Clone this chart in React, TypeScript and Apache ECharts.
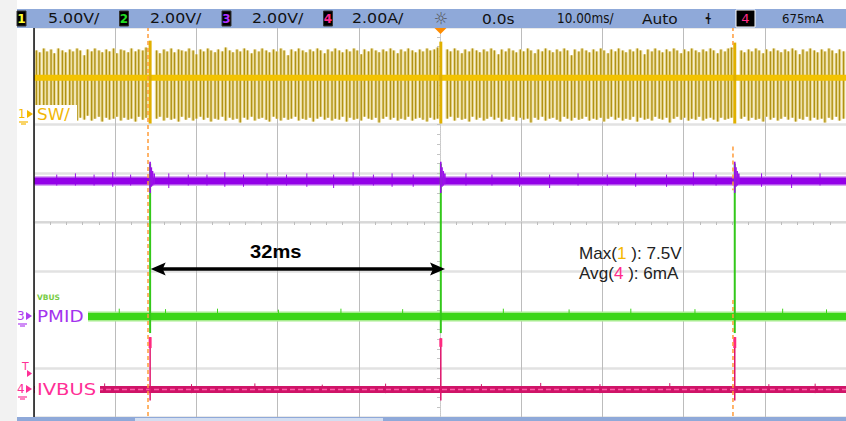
import React, { useEffect, useRef } from "react";
import * as echarts from "echarts";

// ---- Axes (10 ms/div, 8 vertical divisions) ----
const TIME_MIN = -50;
const TIME_MAX = 50;
const DIV_MIN = -4;
const DIV_MAX = 4;
const CH1_RANGE = [-31.1, 8.9]; // 5 V/div, ground at marker "1"
const CH23_RANGE = [-4.144, 11.856]; // 2 V/div, ground at marker "3"
const CH4_RANGE = [-1.128, 14.872]; // 2 A/div, ground at marker "4"

// ---- Header ----
const CH_NUMS = ["1", "2", "3", "4"];
const CH_COLORS = ["#ffff33", "#22dd22", "#b030ff", "#ff2a8a"];
const CH_SCALES = ["5.00V/", "2.00V/", "2.00V/", "2.00A/"];
const TIME_TEXTS = ["0.0s", "10.00ms/", "Auto"];
const TRIG_SOURCE = "4";
const TRIG_LEVEL = "675mA";

// ---- Trace levels ----
const SW_LEVEL = 3.69; // V
const PMID_LEVEL = 5.54; // V
const VBUS_LEVEL = -0.02; // V
const IVBUS_LEVEL = 0.0; // A

// ---- SW switching spikes [t ms, low V, high V] ----
const SW_SPIKES = [
  [-49.7,-.4,6.5],[-49.3,-.6,6.3],[-48.8,-.3,6.7],[-48.4,-.7,6.4],[-47.9,-.5,6.6],[-47.5,-.2,6.2],[-47.0,-.6,6.7],[-46.5,-.4,6.5],[-46.1,-.8,6.3],[-45.6,-.5,6.6],[-45.2,-.3,6.4],[-44.7,-.7,6.7],[-44.3,-.4,6.5],[-43.8,-.6,6.0],[-43.4,-.2,6.6],[-42.9,-.7,6.4],[-42.5,-.5,6.7],[-42.0,-.3,6.5],[-41.6,-.8,6.3],[-41.1,-.4,6.6],[-40.7,-.6,6.4],[-40.2,-.5,6.7],[-39.8,-.3,6.2],[-39.3,-.7,6.6],[-38.9,-.4,6.5],[-38.4,-.6,6.3],[-38.0,-.5,6.7],[-37.5,-.8,6.4],[-37.1,-.3,6.6],[-36.6,-.6,6.5],[-36.2,-.4,6.8],
  [-34.9,-.5,6.5],[-34.5,-.3,6.2],[-34.0,-.7,6.6],[-33.6,-.4,6.4],[-33.1,-.6,6.7],[-32.7,-.5,6.3],[-32.2,-.8,6.6],[-31.8,-.3,6.5],[-31.3,-.6,6.4],[-30.9,-.4,6.7],[-30.4,-.7,6.5],[-30.0,-.5,6.1],[-29.5,-.3,6.6],[-29.1,-.6,6.4],[-28.6,-.4,6.7],[-28.2,-.8,6.5],[-27.7,-.5,6.3],[-27.3,-.6,6.6],[-26.8,-.3,6.4],[-26.4,-.7,6.8],[-25.9,-.4,6.5],[-25.5,-.6,6.3],[-25.0,-.5,6.6],[-24.6,-.9,6.4],[-24.1,-.4,6.7],[-23.7,-.6,6.5],[-23.2,-.3,6.2],[-22.8,-.7,6.6],[-22.3,-.5,6.4],[-21.9,-.4,6.7],[-21.4,-.6,6.5],[-21.0,-.8,6.3],[-20.5,-.3,6.6],[-20.1,-.5,6.4],[-19.6,-.7,6.7],[-19.2,-.4,6.5],[-18.7,-.6,6.0],[-18.3,-.5,6.6],[-17.8,-.3,6.4],[-17.4,-.7,6.7],[-16.9,-.5,6.5],[-16.5,-.6,6.3],[-16.0,-.4,6.6],[-15.6,-.8,6.4],[-15.1,-.5,6.7],[-14.7,-.3,6.5],[-14.2,-.6,6.2],[-13.8,-.4,6.6],[-13.3,-.7,6.4],[-12.9,-.5,6.7],[-12.4,-.6,6.5],[-12.0,-.3,6.3],[-11.5,-.8,6.6],[-11.1,-.4,6.4],[-10.6,-.6,6.7],[-10.2,-.5,6.5],[-9.7,-.7,6.1],[-9.3,-.3,6.6],[-8.8,-.5,6.4],[-8.4,-.6,6.7],[-7.9,-.4,6.5],[-7.5,-.9,6.3],[-7.0,-.5,6.6],[-6.6,-.3,6.4],[-6.1,-.6,6.7],[-5.7,-.4,6.5],[-5.2,-.7,6.2],[-4.8,-.5,6.6],[-4.3,-.6,6.4],[-3.9,-.3,6.7],[-3.4,-.7,6.5],[-3.0,-.5,6.3],[-2.5,-.4,6.6],[-2.1,-.6,6.4],[-1.6,-.8,6.7],[-1.2,-.4,6.5],[-0.7,-.6,6.6],[-0.3,-.5,6.8],
  [0.9,-.5,6.6],[1.3,-.3,6.4],[1.8,-.7,6.7],[2.2,-.4,6.5],[2.7,-.6,6.2],[3.1,-.5,6.6],[3.6,-.8,6.4],[4.0,-.3,6.7],[4.5,-.6,6.5],[4.9,-.4,6.3],[5.4,-.7,6.6],[5.8,-.5,6.4],[6.3,-.3,6.7],[6.7,-.6,6.5],[7.2,-.4,6.1],[7.6,-.8,6.6],[8.1,-.5,6.4],[8.5,-.6,6.7],[9.0,-.3,6.5],[9.4,-.7,6.3],[9.9,-.4,6.6],[10.3,-.6,6.4],[10.8,-.5,6.7],[11.2,-.9,6.5],[11.7,-.4,6.2],[12.1,-.6,6.6],[12.6,-.3,6.4],[13.0,-.7,6.7],[13.5,-.5,6.5],[13.9,-.4,6.3],[14.4,-.6,6.6],[14.8,-.8,6.4],[15.3,-.3,6.7],[15.7,-.5,6.5],[16.2,-.7,6.0],[16.6,-.4,6.6],[17.1,-.6,6.4],[17.5,-.5,6.7],[18.0,-.3,6.5],[18.4,-.7,6.3],[18.9,-.5,6.6],[19.3,-.6,6.4],[19.8,-.4,6.7],[20.2,-.8,6.5],[20.7,-.5,6.2],[21.1,-.3,6.6],[21.6,-.6,6.4],[22.0,-.4,6.7],[22.5,-.7,6.5],[22.9,-.5,6.3],[23.4,-.6,6.6],[23.8,-.3,6.4],[24.3,-.8,6.7],[24.7,-.4,6.5],[25.2,-.6,6.1],[25.6,-.5,6.6],[26.1,-.7,6.4],[26.5,-.3,6.7],[27.0,-.5,6.5],[27.4,-.6,6.3],[27.9,-.4,6.6],[28.3,-.9,6.4],[28.8,-.5,6.7],[29.2,-.3,6.5],[29.7,-.6,6.2],[30.1,-.4,6.6],[30.6,-.7,6.4],[31.0,-.5,6.7],[31.5,-.6,6.5],[31.9,-.3,6.3],[32.4,-.7,6.6],[32.8,-.5,6.4],[33.3,-.4,6.7],[33.7,-.6,6.5],[34.2,-.8,6.2],[34.6,-.4,6.6],[35.1,-.6,6.4],[35.5,-.5,6.7],[35.9,-.4,6.8],
  [37.1,-.5,6.5],[37.5,-.3,6.3],[38.0,-.7,6.6],[38.4,-.4,6.4],[38.9,-.6,6.7],[39.3,-.5,6.5],[39.8,-.8,6.2],[40.2,-.3,6.6],[40.7,-.6,6.4],[41.1,-.4,6.7],[41.6,-.7,6.5],[42.0,-.5,6.3],[42.5,-.3,6.6],[42.9,-.6,6.4],[43.4,-.4,6.7],[43.8,-.8,6.5],[44.3,-.5,6.1],[44.7,-.6,6.6],[45.2,-.3,6.4],[45.6,-.7,6.7],[46.1,-.4,6.5],[46.5,-.6,6.3],[47.0,-.5,6.6],[47.4,-.9,6.4],[47.9,-.4,6.7],[48.3,-.6,6.5],[48.8,-.3,6.2],[49.2,-.7,6.6],[49.7,-.5,6.4],
];
const SW_EVENTS = [[-35.7, -1.0, 7.5], [0.1, -1.0, 7.4], [36.3, -1.0, 7.3]];

// ---- PMID ----
const PMID_NOISE = [
  [-47.2,5.35,5.8],[-44.9,5.35,5.85],[-42.6,5.35,5.8],[-40.3,5.3,5.9],[-38.1,5.35,5.8],[-33.4,5.25,5.85],[-31.0,5.35,5.8],[-28.7,5.35,5.8],[-26.5,5.3,5.9],[-24.2,5.3,5.8],[-21.3,5.35,5.85],[-18.9,5.35,5.8],[-16.4,5.3,5.85],[-13.1,5.25,5.8],[-10.7,5.35,5.9],[-8.2,5.35,5.8],[-5.9,5.3,5.85],[-3.3,5.3,5.8],[3.2,5.35,5.85],[6.4,5.35,5.8],[9.8,5.3,5.9],[13.5,5.25,5.8],[17.0,5.35,5.85],[20.6,5.35,5.8],[24.1,5.3,5.85],[27.9,5.3,5.8],[31.2,5.35,5.9],[34.0,5.35,5.8],[39.6,5.3,5.85],[43.3,5.25,5.8],[46.8,5.35,5.85],
];
const PMID_EVENTS = [
  [-35.7,5.05,6.33],[-35.55,5.3,6.1],[-35.4,5.35,5.95],[-35.2,5.4,5.85],
  [0.1,5.05,6.33],[0.25,5.3,6.1],[0.4,5.35,5.95],[0.6,5.4,5.85],
  [36.3,5.05,6.33],[36.45,5.3,6.1],[36.6,5.35,5.95],[36.8,5.4,5.85],
];

// ---- VBUS ----
const VBUS_EVENTS = [[-35.7, -0.7, 6.25], [0.1, -0.7, 6.25], [36.3, -0.7, 6.25]];
const VBUS_NOISE = [[-39.5,0,0.3],[-33.8,0,0.28],[-27.4,0,0.3],[-19.9,0,0.26],[-12.2,0,0.3],[-4.6,0,0.28],[7.8,0,0.3],[15.9,0,0.27],[23.5,0,0.3],[31.4,0,0.28],[42.2,0,0.3],[47.6,0,0.27]];

// ---- IVBUS ----
const IVBUS_EVENTS = [[-35.7, -0.45, 2.15], [0.1, -0.45, 2.1], [36.3, -0.45, 2.15]];
const IVBUS_PEAKS = [[-35.7, 1.7, 2.15], [0.1, 1.75, 2.1], [36.3, 1.7, 2.15]];
const IVBUS_NOISE = [[-41.3,-0.12,0.25],[-30.6,-0.15,0.22],[-22.8,-0.1,0.25],[-14.5,-0.12,0.2],[-6.7,-0.15,0.24],[5.1,-0.1,0.22],[12.4,-0.12,0.27],[19.7,-0.15,0.22],[28.3,-0.1,0.26],[40.5,-0.12,0.22],[46.2,-0.15,0.24]];

// ---- Cursors (orange dashed) [t ms, from div, to div] ----
const CURSORS = [[-35.96, 4, -4], [36.08, 4, 3.55], [36.08, 1.55, 0.65], [36.08, -1.6, -4]];

// ---- Annotation ----
const SPAN = [[-35.63, 0.62, -0.964]];
const SPAN_LABEL = "32ms";
const MEAS_NAMES = ["Max", "Avg"];
const MEAS_CH = ["1", "4"];
const MEAS_VALUES = ["7.5V", "6mA"];

const spike = (color: string, width: number) => (_p: any, api: any) => {
  const t = api.value(0);
  const a = api.coord([t, api.value(1)]);
  const b = api.coord([t, api.value(2)]);
  return {
    type: "line",
    shape: { x1: a[0], y1: a[1], x2: b[0], y2: b[1] },
    style: { stroke: color, lineWidth: width },
  };
};

const swSpike = (_p: any, api: any) => {
  const t = api.value(0);
  const a = api.coord([t, api.value(1)]);
  const b = api.coord([t, api.value(2)]);
  const shape = { x1: a[0], y1: a[1], x2: b[0], y2: b[1] };
  return {
    type: "group",
    children: [
      { type: "line", shape, style: { stroke: "#ecdd9e", lineWidth: 3.6 } },
      { type: "line", shape, style: { stroke: "#b09214", lineWidth: 1.4 } },
    ],
  };
};

const cursorItem = (_p: any, api: any) => {
  const t = api.value(0);
  const a = api.coord([t, api.value(1)]);
  const b = api.coord([t, api.value(2)]);
  return {
    type: "line",
    shape: { x1: a[0], y1: a[1], x2: b[0], y2: b[1] },
    style: { stroke: "#ff9c3a", lineWidth: 1.5, lineDash: [4, 3] },
  };
};

const arrowItem = (_p: any, api: any) => {
  const y = api.value(2);
  const a = api.coord([api.value(0), y]);
  const b = api.coord([api.value(1), y]);
  const L = 15;
  const H = 6.5;
  return {
    type: "group",
    children: [
      { type: "line", shape: { x1: a[0] + 8, y1: a[1], x2: b[0] - 8, y2: b[1] }, style: { stroke: "#000", lineWidth: 3.3 } },
      { type: "polygon", shape: { points: [[a[0], a[1]], [a[0] + L, a[1] - H], [a[0] + L - 3, a[1]], [a[0] + L, a[1] + H]] }, style: { fill: "#000" } },
      { type: "polygon", shape: { points: [[b[0], b[1]], [b[0] - L, b[1] - H], [b[0] - L + 3, b[1]], [b[0] - L, b[1] + H]] }, style: { fill: "#000" } },
    ],
  };
};

const HEADER_FONT = '14px "DejaVu Sans"';
const txt = (x: number, y: number, text: string, fill: string, font: string, scaleX = 1, align = "left", z = 12) => ({
  type: "text",
  x,
  y,
  scaleX,
  z,
  style: { text, fill, font, textAlign: align, verticalAlign: "middle", textVerticalAlign: "middle" },
});
const rect = (x: number, y: number, w: number, h: number, fill: string, z = 10, stroke?: string) => ({
  type: "rect",
  z,
  shape: { x, y, width: w, height: h },
  style: stroke ? { fill, stroke, lineWidth: 1 } : { fill },
});
const marker = (x: number, y: number, label: string, color: string, ground: boolean) => {
  const els: any[] = [
    txt(x, y, label, color, '12px "DejaVu Sans"', 1, "left"),
    { type: "polygon", z: 12, shape: { points: [[x + 9, y - 4], [x + 15, y], [x + 9, y + 4]] }, style: { fill: color } },
  ];
  if (ground) {
    els.push({ type: "line", z: 12, shape: { x1: x + 1, y1: y + 8, x2: x + 10, y2: y + 8 }, style: { stroke: color, lineWidth: 1.2 } });
    els.push({ type: "line", z: 12, shape: { x1: x + 3, y1: y + 10, x2: x + 8, y2: y + 10 }, style: { stroke: color, lineWidth: 1.2 } });
  }
  return els;
};

export default function App() {
  const ref = useRef<HTMLDivElement>(null);
  useEffect(() => {
    if (!ref.current) return;
    const chart = echarts.init(ref.current, undefined, { renderer: "svg" });
    const boxX = [17, 119.5, 222, 323.5];
    const scaleX = [48, 150, 252, 352];
    const header: any[] = [rect(17, 9, 829, 19, "#8fa9d9", 10)];
    CH_NUMS.forEach((n, i) => {
      header.push(rect(boxX[i], 11, 9, 15, "#000", 11, "#333"));
      header.push(txt(boxX[i] + 4.5, 18.5, n, CH_COLORS[i], 'bold 12px "DejaVu Sans"', 1, "center"));
      header.push(txt(scaleX[i], 18.5, CH_SCALES[i], "#111", HEADER_FONT, 1.13));
    });
    header.push(txt(441, 18.5, "☼", "#555", '16px "DejaVu Sans"', 1, "center"));
    header.push(txt(482, 18.5, TIME_TEXTS[0], "#111", HEADER_FONT, 1.1));
    header.push(txt(557, 18.5, TIME_TEXTS[1], "#111", HEADER_FONT, 0.86));
    header.push(txt(642, 18.5, TIME_TEXTS[2], "#111", HEADER_FONT, 1.1));
    header.push(txt(705, 18.5, "ɬ", "#111", HEADER_FONT, 1));
    header.push(rect(736, 10, 19, 17, "#000", 11, "#fff"));
    header.push(txt(745.5, 18.5, TRIG_SOURCE, CH_COLORS[3], '13px "DejaVu Sans"', 1, "center"));
    header.push(txt(782, 18.5, TRIG_LEVEL, "#111", '13px "DejaVu Sans"', 0.9));

    const graphic: any[] = [
      rect(0, 0, 17, 421, "#f2f2f2", 10),
      ...header,
      { type: "polygon", z: 12, shape: { points: [[434.5, 28], [446.5, 28], [440.5, 34]] }, style: { fill: "#ff8c00" } },
      { type: "line", z: 11, shape: { x1: 34, y1: 28, x2: 34, y2: 417 }, style: { stroke: "#111", lineWidth: 1.5 } },
      rect(17, 417, 829, 4, "#8fa9d9", 12),
      rect(135, 418, 248, 3, "#d3def1", 12),
      // label backgrounds
      rect(35, 105, 42, 18, "#fff", 10),
      rect(35, 306, 53, 21, "#fff", 10),
      rect(35, 379, 65, 21, "#fff", 10),
      ...marker(18, 114, "1", "#f5b800", true),
      txt(37, 114.5, "SW/", "#f2b705", '15px "DejaVu Sans"', 1.12),
      txt(37, 297, "VBUS", "#77cc44", 'bold 7.5px "DejaVu Sans"', 1),
      ...marker(17, 316, "3", "#b040f0", true),
      txt(37, 316.5, "PMID", "#a333ee", '16px "DejaVu Sans"', 1.15),
      txt(22, 366.5, "T", "#ff2f96", '11px "DejaVu Sans"', 1),
      { type: "polygon", z: 12, shape: { points: [[27, 370], [32, 373.5], [27, 377]] }, style: { fill: "#ff2f96" } },
      ...marker(17, 389, "4", "#ff2f96", true),
      txt(37, 389.5, "IVBUS", "#ff2f96", '16px "DejaVu Sans"', 1.22),
      txt(250, 251.5, SPAN_LABEL, "#000", 'bold 19px "Liberation Sans"', 1.06),
      {
        type: "text",
        x: 579,
        y: 253.5,
        scaleX: 1.07,
        z: 12,
        style: {
          text: `${MEAS_NAMES[0]}({c1|${MEAS_CH[0]}} ): ${MEAS_VALUES[0]}`,
          fill: "#222",
          font: '16px "Liberation Sans"',
          verticalAlign: "middle",
          textVerticalAlign: "middle",
          rich: { c1: { fill: "#f5b800", font: '16px "Liberation Sans"' } },
        },
      },
      {
        type: "text",
        x: 579,
        y: 273.5,
        scaleX: 1.07,
        z: 12,
        style: {
          text: `${MEAS_NAMES[1]}({c4|${MEAS_CH[1]}} ): ${MEAS_VALUES[1]}`,
          fill: "#222",
          font: '16px "Liberation Sans"',
          verticalAlign: "middle",
          textVerticalAlign: "middle",
          rich: { c4: { fill: "#ff2a8a", font: '16px "Liberation Sans"' } },
        },
      },
    ];

    const flat = (data: number[]) => [[TIME_MIN, data[0]], [TIME_MAX, data[0]]];

    chart.setOption({
      animation: false,
      backgroundColor: "#fff",
      grid: { left: 34, top: 27, width: 812, height: 390, show: false },
      xAxis: [
        {
          type: "value",
          min: TIME_MIN,
          max: TIME_MAX,
          interval: 10,
          axisLabel: { show: false },
          splitLine: { show: true, lineStyle: { color: "#bcbcbc", width: 1 } },
          axisLine: { show: true, onZero: true, onZeroAxisIndex: 0, lineStyle: { color: "#d4d4d4", width: 1.5 } },
          axisTick: { show: true, length: 3, lineStyle: { color: "#bdbdbd" } },
          minorTick: { show: true, splitNumber: 5, length: 3, lineStyle: { color: "#bdbdbd" } },
        },
      ],
      yAxis: [
        {
          type: "value",
          min: DIV_MIN,
          max: DIV_MAX,
          interval: 1,
          axisLabel: { show: false },
          splitLine: { show: true, lineStyle: { color: "#e2e2e2", width: 2.5 } },
          axisLine: { show: true, onZero: true, lineStyle: { color: "#cfcfcf", width: 1, type: "dotted" } },
          axisTick: { show: true, length: 3, lineStyle: { color: "#c4c4c4" } },
          minorTick: { show: true, splitNumber: 5, length: 3, lineStyle: { color: "#c4c4c4" } },
        },
        { type: "value", min: CH1_RANGE[0], max: CH1_RANGE[1], show: false },
        { type: "value", min: CH23_RANGE[0], max: CH23_RANGE[1], show: false },
        { type: "value", min: CH4_RANGE[0], max: CH4_RANGE[1], show: false },
      ],
      graphic,
      series: [
        { type: "custom", name: "SW spikes", xAxisIndex: 0, yAxisIndex: 1, renderItem: swSpike, data: SW_SPIKES, z: 3, silent: true },
        { type: "line", name: "SW", xAxisIndex: 0, yAxisIndex: 1, data: flat([SW_LEVEL]), symbol: "none", lineStyle: { color: "#f3c300", width: 6 }, z: 4, silent: true },
        { type: "custom", name: "SW events", xAxisIndex: 0, yAxisIndex: 1, renderItem: spike("#e0b000", 3), data: SW_EVENTS, z: 5, silent: true },
        { type: "line", name: "PMID halo", xAxisIndex: 0, yAxisIndex: 2, data: flat([PMID_LEVEL]), symbol: "none", lineStyle: { color: "#d7a8f3", width: 10 }, z: 3, silent: true },
        { type: "line", name: "PMID", xAxisIndex: 0, yAxisIndex: 2, data: flat([PMID_LEVEL]), symbol: "none", lineStyle: { color: "#9300e8", width: 7 }, z: 4, silent: true },
        { type: "custom", name: "PMID noise", xAxisIndex: 0, yAxisIndex: 2, renderItem: spike("#9a10e8", 1), data: PMID_NOISE, z: 4, silent: true },
        { type: "custom", name: "PMID events", xAxisIndex: 0, yAxisIndex: 2, renderItem: spike("#9a10e8", 1.6), data: PMID_EVENTS, z: 6, silent: true },
        { type: "custom", name: "VBUS events", xAxisIndex: 0, yAxisIndex: 2, renderItem: spike("#33c81a", 2), data: VBUS_EVENTS, z: 5, silent: true },
        { type: "line", name: "VBUS halo", xAxisIndex: 0, yAxisIndex: 2, data: flat([VBUS_LEVEL]), symbol: "none", lineStyle: { color: "#a6ec8e", width: 10 }, z: 3, silent: true },
        { type: "line", name: "VBUS", xAxisIndex: 0, yAxisIndex: 2, data: flat([VBUS_LEVEL]), symbol: "none", lineStyle: { color: "#3cd618", width: 7 }, z: 4, silent: true },
        { type: "custom", name: "VBUS noise", xAxisIndex: 0, yAxisIndex: 2, renderItem: spike("#3cd618", 1), data: VBUS_NOISE, z: 4, silent: true },
        { type: "line", name: "IVBUS", xAxisIndex: 0, yAxisIndex: 3, data: flat([IVBUS_LEVEL]), symbol: "none", lineStyle: { color: "#cf1468", width: 7 }, z: 4, silent: true },
        { type: "line", name: "IVBUS mid", xAxisIndex: 0, yAxisIndex: 3, data: flat([IVBUS_LEVEL]), symbol: "none", lineStyle: { color: "#ff5aa6", width: 1.6, type: [5, 3] }, z: 5, silent: true },
        { type: "custom", name: "IVBUS noise", xAxisIndex: 0, yAxisIndex: 3, renderItem: spike("#cf1468", 1), data: IVBUS_NOISE, z: 4, silent: true },
        { type: "custom", name: "IVBUS events", xAxisIndex: 0, yAxisIndex: 3, renderItem: spike("#e0136c", 1.5), data: IVBUS_EVENTS, z: 6, silent: true },
        { type: "custom", name: "IVBUS peaks", xAxisIndex: 0, yAxisIndex: 3, renderItem: spike("#ff2a80", 3), data: IVBUS_PEAKS, z: 6, silent: true },
        { type: "custom", name: "cursors", xAxisIndex: 0, yAxisIndex: 0, renderItem: cursorItem, data: CURSORS, z: 7, silent: true },
        { type: "custom", name: "span", xAxisIndex: 0, yAxisIndex: 0, renderItem: arrowItem, data: SPAN, z: 8, silent: true },
      ],
    });
    return () => chart.dispose();
  }, []);
  return (
    <div
      ref={ref}
      style={{ position: "fixed", left: 0, top: 0, width: 846, height: 421, background: "#fff" }}
    />
  );
}
